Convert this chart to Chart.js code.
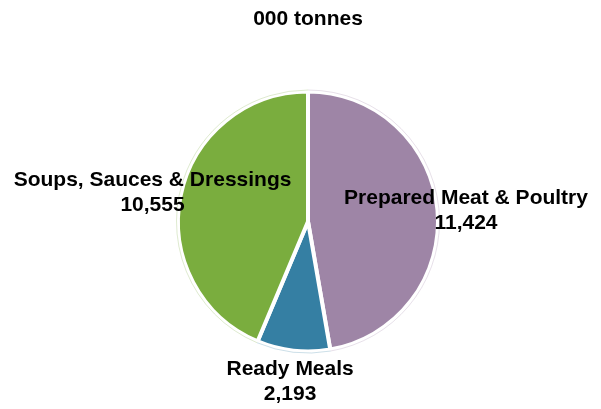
<!DOCTYPE html>
<html>
<head>
<meta charset="utf-8">
<script src="https://cdn.jsdelivr.net/npm/chart.js@4/dist/chart.umd.min.js"></script>
<style>
  html, body { margin: 0; padding: 0; background: #ffffff; }
  #wrap { width: 601px; height: 409px; position: relative; }
</style>
</head>
<body>
<div id="wrap"><canvas id="pie" width="601" height="409"></canvas></div>
<script>
// Output by product group, thousand tonnes
const categories = ['Prepared Meat & Poultry', 'Ready Meals', 'Soups, Sauces & Dressings'];
const tonnes = [11424, 2193, 10555];
const sliceColors = ['#9e85a6', '#357fa3', '#7aad3e'];
const titleText = '000 tonnes';

const FONT = '"Liberation Sans", Arial, Helvetica, sans-serif';

const fmt = new Intl.NumberFormat('en-GB');

// Title text plus slice labels placed outside each arc along its mid-angle
const pieText = {
  id: 'pieText',
  afterDatasetsDraw(chart) {
    const ctx = chart.ctx;
    const meta = chart.getDatasetMeta(0);
    ctx.save();

    // faint outline just outside each slice
    meta.data.forEach((arc, i) => {
      const p = arc.getProps(['x', 'y', 'startAngle', 'endAngle', 'outerRadius'], true);
      ctx.beginPath();
      ctx.arc(p.x, p.y, p.outerRadius + 1.5, p.startAngle, p.endAngle);
      ctx.strokeStyle = sliceColors[i] + '40';
      ctx.lineWidth = 1;
      ctx.stroke();
    });

    ctx.fillStyle = '#000000';
    ctx.textAlign = 'center';
    ctx.textBaseline = 'middle';
    ctx.font = 'bold 21px ' + FONT;

    const ca = chart.chartArea;
    ctx.fillText(titleText, (ca.left + ca.right) / 2, 19);

    meta.data.forEach((arc, i) => {
      const p = arc.getProps(['x', 'y', 'startAngle', 'endAngle', 'outerRadius'], true);
      const mid = (p.startAngle + p.endAngle) / 2;
      const r = p.outerRadius * 1.22;
      const cx = p.x + Math.cos(mid) * r;
      const cy = p.y + Math.sin(mid) * r + 2.5;
      ctx.fillText(categories[i], cx, cy - 12.5);
      ctx.fillText(fmt.format(tonnes[i]), cx, cy + 12.5);
    });
    ctx.restore();
  }
};

new Chart(document.getElementById('pie'), {
  type: 'pie',
  data: {
    labels: categories,
    datasets: [{
      data: tonnes,
      backgroundColor: sliceColors,
      borderColor: '#ffffff',
      borderWidth: 4,
      hoverOffset: 0
    }]
  },
  options: {
    responsive: false,
    animation: false,
    layout: { padding: { top: 89.5, bottom: 55.5, left: 15, right: 0 } },
    plugins: {
      legend: { display: false },
      title: { display: false },
      tooltip: { enabled: false }
    }
  },
  plugins: [pieText]
});
</script>
</body>
</html>
